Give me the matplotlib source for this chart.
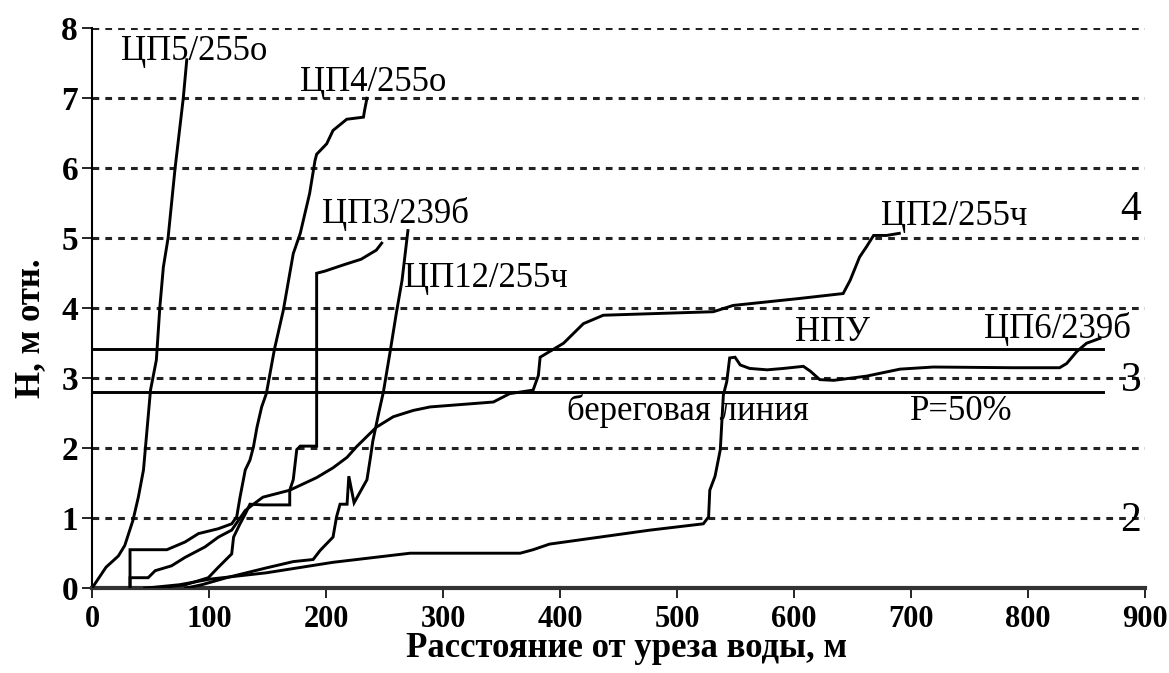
import numpy as np
import matplotlib.pyplot as plt

plt.rcParams['font.family'] = ['Liberation Serif', 'DejaVu Serif']

# Profiles: distance from the water edge (m) vs relative height (m)
cp5_x = [0, 12, 22.5, 28, 35, 39.6, 44, 47, 50, 55, 58, 61, 65, 71, 78, 81]
cp5_y = [0, 0.3, 0.46, 0.61, 0.97, 1.3, 1.69, 2.26, 2.83, 3.26, 4.02, 4.59, 5.0, 6.0, 7.0, 7.55]

cp4_x = [32.5, 32.5, 64, 79.5, 91, 108, 119.4, 123.7, 126.5, 131, 135, 138, 141, 145, 149,
         156, 163.5, 172, 178, 186, 190.6, 192, 200.6, 206, 217.7, 232, 233, 235]
cp4_y = [0, 0.55, 0.55, 0.66, 0.78, 0.85, 0.92, 1.02, 1.3, 1.69, 1.83, 2.02, 2.3, 2.59, 2.78,
         3.42, 3.97, 4.78, 5.07, 5.64, 6.11, 6.2, 6.35, 6.54, 6.7, 6.73, 6.83, 7.0]

cp2_x = [32.5, 32.5, 48, 54, 68, 79.5, 96.6, 108, 119.4, 131, 138, 146, 169, 192, 206, 218,
         226, 243, 257.5, 274.6, 289, 343, 357, 377, 381.5, 383, 391, 403, 420, 437, 474,
         531, 548, 605, 642, 648, 656, 662, 668, 679, 690]
cp2_y = [0, 0.15, 0.15, 0.25, 0.32, 0.44, 0.59, 0.73, 0.83, 1.11, 1.2, 1.3, 1.4, 1.58, 1.72,
         1.87, 2.02, 2.3, 2.45, 2.54, 2.59, 2.66, 2.78, 2.83, 3.04, 3.3, 3.38, 3.5, 3.78, 3.9,
         3.92, 3.95, 4.04, 4.14, 4.21, 4.4, 4.73, 4.88, 5.04, 5.04, 5.07]

cp3_x = [55, 80, 99.4, 108, 119.4, 121, 126.5, 131, 135, 146, 169, 169, 172, 175, 178, 192,
         192, 199, 215, 230, 243, 247.6]
cp3_y = [0, 0.05, 0.15, 0.3, 0.49, 0.73, 0.92, 1.06, 1.2, 1.19, 1.19, 1.4, 1.55, 1.98, 2.03,
         2.03, 4.5, 4.53, 4.62, 4.7, 4.83, 4.93]

cp12_x = [80, 94, 115, 149, 172, 189, 195, 206, 209, 212, 218, 219.5, 224, 230, 235, 238, 240,
          245, 249, 255, 260, 265, 270]
cp12_y = [0, 0.05, 0.15, 0.29, 0.38, 0.41, 0.54, 0.73, 1.02, 1.2, 1.2, 1.6, 1.22, 1.4, 1.55,
          1.87, 2.1, 2.5, 2.8, 3.4, 3.92, 4.4, 5.11]

cp6_x = [45, 75, 101, 149, 206, 272, 366, 377, 391, 434, 477, 522.5, 527, 528, 532.5, 537,
         539.6, 542.5, 545, 549.6, 554, 562, 577, 591, 608, 614, 622, 634, 662, 690.6, 719,
         787.5, 827, 833, 841.6, 850, 861.5]
cp6_y = [0, 0.05, 0.13, 0.22, 0.37, 0.5, 0.5, 0.55, 0.63, 0.73, 0.83, 0.92, 1.02, 1.4, 1.6,
         1.98, 2.76, 2.95, 3.29, 3.3, 3.19, 3.14, 3.12, 3.14, 3.17, 3.1, 2.98, 2.97, 3.03,
         3.13, 3.16, 3.15, 3.15, 3.21, 3.38, 3.5, 3.57]

# Reference levels
npu_level = 3.42
shore_level = 2.80
level_end = 864

x_ticks = [0, 100, 200, 300, 400, 500, 600, 700, 800, 900]
y_ticks = [0, 1, 2, 3, 4, 5, 6, 7, 8]

fig = plt.figure(figsize=(11.69, 6.73), dpi=100)
ax = fig.add_axes([0.0787, 0.126, 0.9008, 0.832])

# dotted grid
for yv in y_ticks[1:]:
    ax.plot([0, 900], [yv, yv], color='#222222', lw=2.2, dashes=(2.2, 2.0), zorder=1)

lw = 2.1
for xs, ys in [(cp5_x, cp5_y), (cp4_x, cp4_y), (cp2_x, cp2_y),
               (cp3_x, cp3_y), (cp12_x, cp12_y), (cp6_x, cp6_y)]:
    ax.plot(xs, ys, color='black', lw=lw, zorder=3, solid_joinstyle='miter')

ax.plot([0, level_end], [npu_level, npu_level], color='black', lw=2.1, zorder=2)
ax.plot([0, level_end], [shore_level, shore_level], color='black', lw=2.1, zorder=2)

ax.set_xlim(0, 900)
ax.set_ylim(0, 8)
ax.set_xticks(x_ticks)
ax.set_yticks(y_ticks)
ax.tick_params(axis='x', direction='out', length=7, width=1.2, labelsize=22, pad=5)
ax.tick_params(axis='y', direction='out', length=7, width=1.2, labelsize=24, pad=3)
for lab in ax.get_xticklabels() + ax.get_yticklabels():
    lab.set_fontweight('bold')
ax.spines['top'].set_visible(False)
ax.spines['right'].set_visible(False)
ax.spines['left'].set_linewidth(1.5)
ax.spines['bottom'].set_linewidth(3)
ax.spines['bottom'].set_color('#333333')

ax.set_xlabel('Расстояние от уреза воды, м', fontsize=25, fontweight='bold')
ax.set_ylabel('Н, м отн.', fontsize=25, fontweight='bold')
ax.xaxis.set_label_coords(0.508, -0.079)
ax.yaxis.set_label_coords(-0.043, 0.464)

lbl = dict(fontsize=25, color='black', va='center', ha='left', zorder=5)
ax.text(25, 7.67, 'ЦП5/255о', **lbl)
ax.text(178, 7.23, 'ЦП4/255о', **lbl)
ax.text(197, 5.35, 'ЦП3/239б', **lbl)
ax.text(267, 4.43, 'ЦП12/255ч', **lbl)
ax.text(674, 5.31, 'ЦП2/255ч', **lbl)
ax.text(601, 3.66, 'НПУ', **lbl)
ax.text(762, 3.71, 'ЦП6/239б', **lbl)
ax.text(406, 2.53, 'береговая линия', **lbl)
ax.text(699, 2.53, 'Р=50%', **lbl)

zone = dict(fontsize=30, color='black', va='center', ha='center', zorder=5)
ax.text(888, 5.4, '4', **zone)
ax.text(888, 2.97, '3', **zone)
ax.text(888, 0.97, '2', **zone)

fig.savefig('out.png', dpi=100)
